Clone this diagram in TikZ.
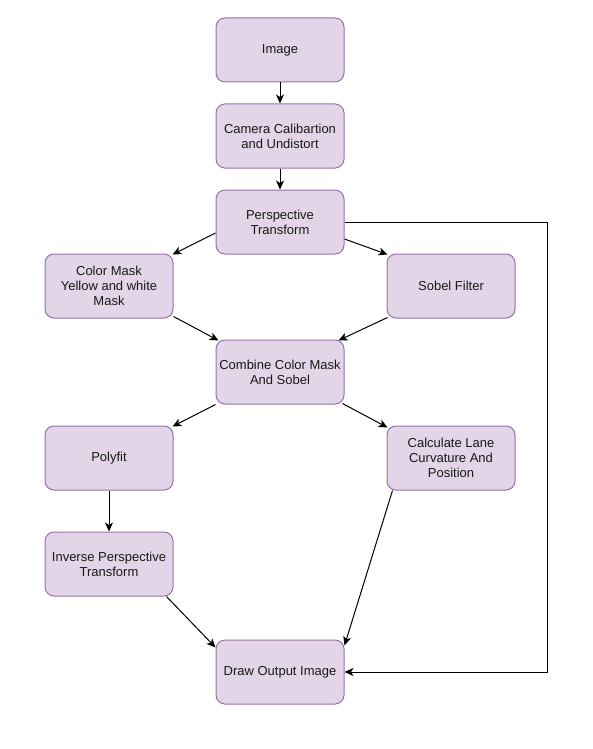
\documentclass[tikz,border=0pt]{standalone}
\usepackage{fontspec}
\setmainfont{Liberation Sans}
\usetikzlibrary{arrows.meta}
\definecolor{boxfill}{HTML}{E1D5E7}
\definecolor{boxdraw}{HTML}{9673A6}
\begin{document}
\begin{tikzpicture}[x=1pt,y=-1pt,
  stepbox/.style={draw=boxdraw,fill=boxfill,line width=1pt,rounded corners=9pt,
    minimum width=128pt,minimum height=64pt,inner sep=2pt,align=center,
    font=\fontsize{13}{15}\selectfont,text=black!90},
  conn/.style={line width=1pt,-{Stealth[length=9pt,width=8pt,inset=2.5pt]}}]
\useasboundingbox (0,0) rectangle (593,749);
\fill[white] (0,0) rectangle (593,749);
\node[stepbox] (img) at (280,50) {Image};
\node[stepbox] (cam) at (280,136) {Camera Calibartion\\and Undistort};
\node[stepbox] (per) at (280,222) {Perspective\\Transform};
\node[stepbox] (cm) at (109,286) {Color Mask\\Yellow and white\\Mask};
\node[stepbox] (sob) at (451,286) {Sobel Filter};
\node[stepbox] (comb) at (280,372) {Combine Color Mask\\And Sobel};
\node[stepbox] (poly) at (109,458) {Polyfit};
\node[stepbox] (calc) at (451,458) {Calculate Lane\\Curvature And\\Position};
\node[stepbox] (inv) at (109,564) {Inverse Perspective\\Transform};
\node[stepbox] (out) at (280,672) {Draw Output Image};
\coordinate (c1) at (547,222);
\coordinate (c2) at (547,672);
\draw[conn] (img) -- (cam);
\draw[conn] (cam) -- (per);
\draw[conn] ([yshift=-11pt]per.west) -- ([xshift=-1pt,yshift=-1pt]cm.north east);
\draw[conn] ([yshift=-17pt]per.east) -- ([xshift=1pt,yshift=-1pt]sob.north west);
\draw[conn] ([yshift=2pt]cm.south east) -- ([xshift=3pt,yshift=-1pt]comb.north west);
\draw[conn] ([xshift=1pt,yshift=1pt]sob.south west) -- ([xshift=-6pt,yshift=-1pt]comb.north east);
\draw[conn] (comb.south west) -- ([xshift=-1pt,yshift=-1pt]poly.north east);
\draw[conn] ([xshift=-2pt,yshift=1pt]comb.south east) -- ([xshift=1pt,yshift=-2pt]calc.north west);
\draw[conn] (poly) -- (inv);
\draw[conn] ([xshift=-7pt]inv.south east) -- ([yshift=-8pt]out.north west);
\draw[conn] ([xshift=6pt]calc.south west) -- ([yshift=-6pt]out.north east);
\draw[conn] (per.east) -- (c1) -- (c2) -- (out.east);
\end{tikzpicture}
\end{document}
